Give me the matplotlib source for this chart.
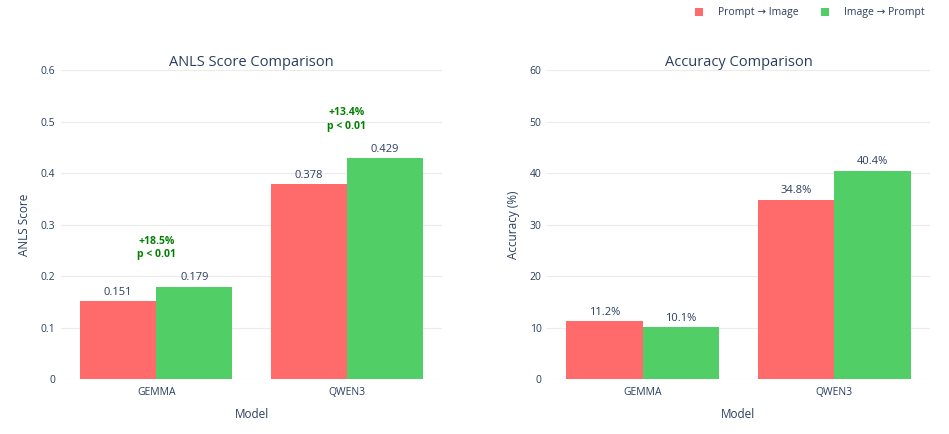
import matplotlib
matplotlib.use("Agg")
import matplotlib.pyplot as plt
import numpy as np

plt.rcParams['font.family'] = ['Open Sans', 'DejaVu Sans']

models = ["GEMMA", "QWEN3"]
series_names = ["Prompt → Image", "Image → Prompt"]
anls_p2i = [0.151, 0.378]
anls_i2p = [0.179, 0.429]
acc_p2i = [11.2, 34.8]
acc_i2p = [10.1, 40.4]
anls_notes = ["+18.5%\np < 0.01", "+13.4%\np < 0.01"]
anls_ticks = [0, 0.1, 0.2, 0.3, 0.4, 0.5, 0.6]
acc_ticks = [0, 10, 20, 30, 40, 50, 60]

RED = "#FF6B6B"
GREEN = "#51CF66"
TXT = "#2a3f5f"
GRID = "#EBEBEB"

W, H = 949, 434
fig = plt.figure(figsize=(W / 100, H / 100), dpi=100)
fig.patch.set_facecolor("white")

def box(x0, x1, ytop, ybot):
    return [x0 / W, 1 - ybot / H, (x1 - x0) / W, (ybot - ytop) / H]

ax1 = fig.add_axes(box(61, 442, 70, 379))
ax2 = fig.add_axes(box(547, 930, 70, 379))

bw = 0.4
x = np.arange(len(models))

def style(ax, ticks, ylabel, title, fmt):
    ax.set_xlim(-0.5, len(models) - 0.5)
    ax.set_ylim(ticks[0], ticks[-1])
    ax.set_yticks(ticks)
    ax.set_yticklabels([fmt(t) for t in ticks])
    ax.set_xticks(x)
    ax.set_xticklabels(models)
    for s in ax.spines.values():
        s.set_visible(False)
    ax.tick_params(axis='both', length=0, labelsize=7.5, colors=TXT, pad=6)
    ax.tick_params(axis='y', pad=4)
    ax.grid(axis='y', color=GRID, linewidth=0.8)
    ax.set_axisbelow(True)
    ax.set_ylabel(ylabel, fontsize=8.5, color=TXT, labelpad=7)
    ax.set_xlabel("Model", fontsize=8.5, color=TXT, labelpad=7)
    ax.set_title(title, fontsize=10.5, color=TXT, pad=2)

def draw(ax, a, b, fmt):
    r1 = ax.bar(x - bw / 2, a, bw, color=RED, label=series_names[0], zorder=2)
    r2 = ax.bar(x + bw / 2, b, bw, color=GREEN, label=series_names[1], zorder=2)
    for rects, vals in ((r1, a), (r2, b)):
        for r, v in zip(rects, vals):
            ax.annotate(fmt(v), (r.get_x() + r.get_width() / 2, v),
                        xytext=(0, 2.5), textcoords="offset points",
                        ha="center", va="bottom", fontsize=8, color=TXT)
    return r1, r2

r1, r2 = draw(ax1, anls_p2i, anls_i2p, lambda v: f"{v:.3f}")
draw(ax2, acc_p2i, acc_i2p, lambda v: f"{v:.1f}%")

style(ax1, anls_ticks, "ANLS Score", "ANLS Score Comparison",
      lambda t: "0" if t == 0 else f"{t:.1f}")
style(ax2, acc_ticks, "Accuracy (%)", "Accuracy Comparison",
      lambda t: f"{t:g}")

for i, note in enumerate(anls_notes):
    top = max(anls_p2i[i], anls_i2p[i])
    ax1.text(x[i], top + 0.075, note, ha="center", va="center", fontsize=7.5,
             fontweight="bold", color="#008000", linespacing=1.3)

fig.legend([r1, r2], series_names, loc="center right",
           bbox_to_anchor=(934 / W, 1 - 13 / H), ncol=2, frameon=False,
           fontsize=7.5, handlelength=0.8, handleheight=0.8,
           columnspacing=2.2, handletextpad=1.4, labelcolor=TXT)

fig.savefig("out.png", dpi=100)
